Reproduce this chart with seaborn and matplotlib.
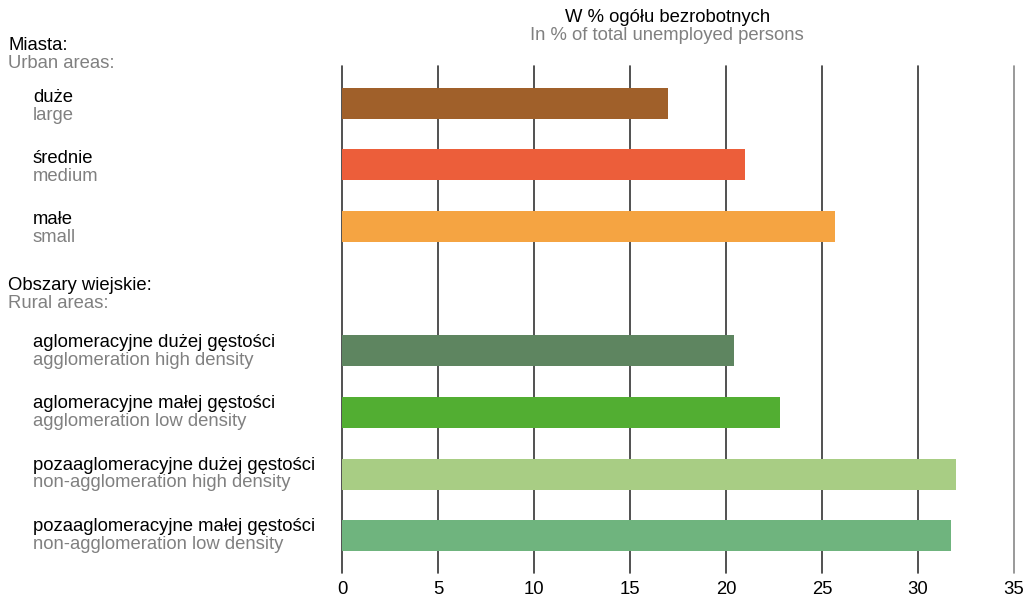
import matplotlib
matplotlib.use("Agg")
import matplotlib.pyplot as plt
import pandas as pd
import seaborn as sns

# data
labels_pl = ["duże", "średnie", "małe",
             "aglomeracyjne dużej gęstości", "aglomeracyjne małej gęstości",
             "pozaaglomeracyjne dużej gęstości", "pozaaglomeracyjne małej gęstości"]
labels_en = ["large", "medium", "small",
             "agglomeration high density", "agglomeration low density",
             "non-agglomeration high density", "non-agglomeration low density"]
values = [17.0, 21.0, 25.7, 20.4, 22.8, 32.0, 31.7]
colors = ["#A0602A", "#EC5E3A", "#F5A442", "#5E8560", "#52AE32", "#A8CD84", "#6FB47E"]
groups_pl = ["Miasta:", "Obszary wiejskie:"]
groups_en = ["Urban areas:", "Rural areas:"]
xticks = [0, 5, 10, 15, 20, 25, 30, 35]

# empty slot between the two groups keeps room for the rural header
order = labels_pl[:3] + ["_gap"] + labels_pl[3:]
df = pd.DataFrame({"cat": labels_pl, "val": values})

sns.set_style("white")
plt.rcParams["font.family"] = ["Liberation Sans", "DejaVu Sans"]

FS = 13.3

fig = plt.figure(figsize=(10.32, 6.03), dpi=100)
ax = fig.add_axes([342 / 1032, 1 - 573 / 603, (1014 - 342) / 1032, (573 - 66) / 603])

sns.barplot(data=df, x="val", y="cat", order=order, hue="cat", hue_order=labels_pl,
            palette=colors, orient="h", width=0.5, legend=False, saturation=1,
            linewidth=0, ax=ax)

ax.set_xlim(0, 35)
ax.set_ylim(7.6, -0.6)
ax.set_xticks(xticks)
ax.set_xticklabels([str(t) for t in xticks], fontsize=FS, color="black")
ax.tick_params(axis="x", length=0, pad=6)
ax.set_yticks([])
ax.set_xlabel("")
ax.set_ylabel("")
for s in ax.spines.values():
    s.set_visible(False)
for t in xticks:
    ax.axvline(t, color="#333333" if t < 35 else "#888888", lw=1.2, zorder=0,
               clip_on=False)

# title
ax.text(0.484, 1.095, "W % ogółu bezrobotnych", transform=ax.transAxes,
        ha="center", va="center", fontsize=FS, color="black")
ax.text(0.484, 1.06, "In % of total unemployed persons", transform=ax.transAxes,
        ha="center", va="center", fontsize=FS, color="#808080")

# row labels on the left (baseline of first line in pixels from top)
def two_lines(base, xpix, top, bottom):
    fig.text(xpix / 1032, 1 - base / 603, top, ha="left", va="baseline",
             fontsize=FS, color="black")
    fig.text(xpix / 1032, 1 - (base + 18) / 603, bottom, ha="left", va="baseline",
             fontsize=FS, color="#808080")

def label_base(slot):
    return 101.7 + slot * 61.3

two_lines(50, 8, groups_pl[0], groups_en[0])
two_lines(290.5, 8, groups_pl[1], groups_en[1])
for i, (pl, en) in enumerate(zip(labels_pl, labels_en)):
    slot = i if i < 3 else i + 1
    two_lines(label_base(slot), 33, pl, en)

plt.savefig("out.png", dpi=100)
